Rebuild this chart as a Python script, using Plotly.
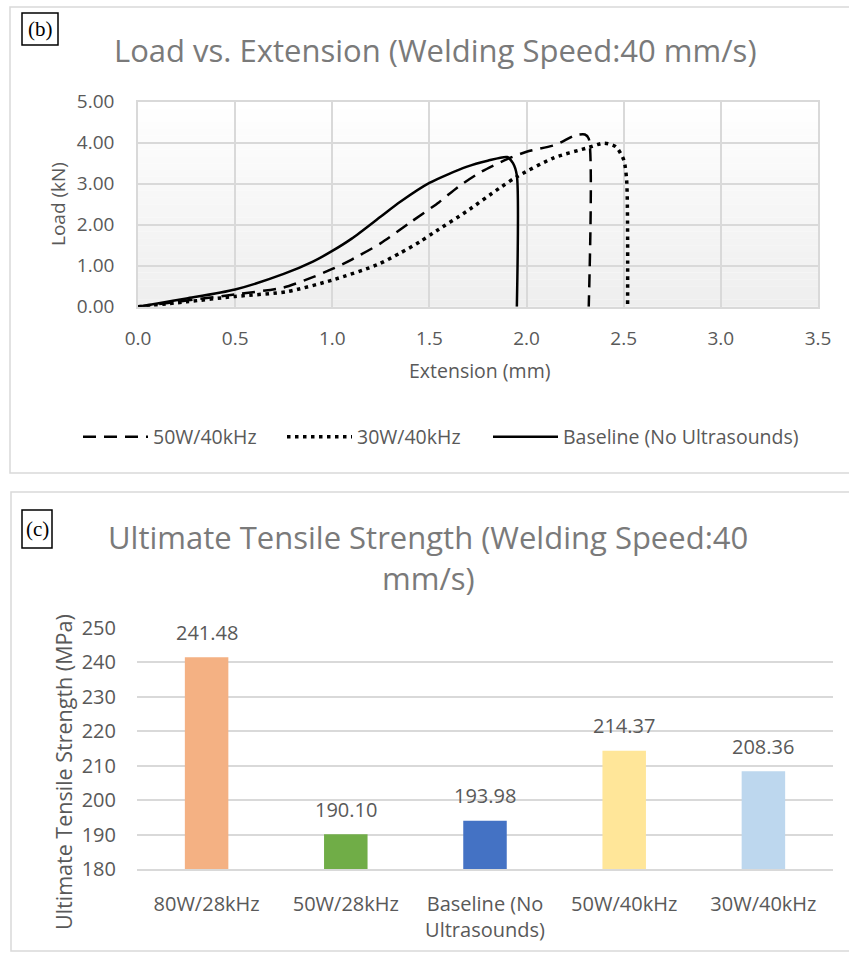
import plotly.graph_objects as go

W, H = 849, 953


def px(x):
    return x / W


def py(y):
    return 1 - y / H


# ---------------- data ----------------
# Panel (b): load vs extension curves
ext_50w = [0.0, 0.25, 0.5, 0.75, 0.9, 1.0, 1.1, 1.25, 1.4, 1.55, 1.65, 1.77, 1.9, 2.0, 2.15, 2.25, 2.3, 2.32, 2.32]
load_50w = [0.0, 0.15, 0.3, 0.47, 0.72, 0.92, 1.15, 1.55, 2.05, 2.55, 2.93, 3.3, 3.6, 3.78, 3.95, 4.18, 4.2, 4.1, 0.0]

ext_30w = [0.0, 0.25, 0.5, 0.77, 1.0, 1.23, 1.35, 1.45, 1.52, 1.69, 1.86, 1.95, 2.14, 2.31, 2.4, 2.46, 2.5, 2.515, 2.52]
load_30w = [0.0, 0.12, 0.25, 0.37, 0.65, 1.02, 1.31, 1.58, 1.8, 2.32, 2.89, 3.17, 3.63, 3.87, 3.99, 3.9, 3.58, 3.09, 0.0]

ext_base = [0.0, 0.1, 0.25, 0.5, 0.75, 0.9, 1.0, 1.1, 1.25, 1.35, 1.5, 1.69, 1.8, 1.9, 1.93, 1.95, 1.95]
load_base = [0.0, 0.08, 0.2, 0.42, 0.8, 1.1, 1.36, 1.66, 2.2, 2.56, 3.02, 3.41, 3.56, 3.65, 3.5, 3.2, 0.0]

series_names = ["50W/40kHz", "30W/40kHz", "Baseline (No Ultrasounds)"]

# Panel (c): ultimate tensile strength
categories = ["80W/28kHz", "50W/28kHz", "Baseline (No<br>Ultrasounds)", "50W/40kHz", "30W/40kHz"]
uts_values = [241.48, 190.10, 193.98, 214.37, 208.36]
bar_colors = ["#F4B183", "#70AD47", "#4472C4", "#FFE699", "#BDD7EE"]

# ---------------- figure ----------------
FONT = "Open Sans"
TICK = "#595959"
TITLE = "#7a7a7a"
GRID = "#d9d9d9"

fig = go.Figure()

fig.add_trace(go.Scatter(x=ext_50w, y=load_50w, mode="lines", name=series_names[0], legend="legend",
                         line=dict(color="black", width=2.5, dash="13px,8px", shape="spline", smoothing=0.7),
                         xaxis="x", yaxis="y"))
fig.add_trace(go.Scatter(x=ext_30w, y=load_30w, mode="lines", name=series_names[1], legend="legend2",
                         line=dict(color="black", width=3.5, dash="3.5px,4.5px", shape="spline", smoothing=0.7),
                         xaxis="x", yaxis="y"))
fig.add_trace(go.Scatter(x=ext_base, y=load_base, mode="lines", name=series_names[2], legend="legend3",
                         line=dict(color="black", width=2.5, shape="spline", smoothing=0.7),
                         xaxis="x", yaxis="y"))

fig.add_trace(go.Bar(x=categories, y=uts_values, marker=dict(color=bar_colors, line=dict(width=0)),
                     cliponaxis=True, showlegend=False,
                     xaxis="x2", yaxis="y2"))

# gradient background of the top plot area
N = 30
shapes = []
for i in range(N):
    c = int(round(0xee + (0xff - 0xee) * (i + 0.5) / N))
    shapes.append(dict(type="rect", xref="x domain", yref="y domain",
                       x0=0, x1=1, y0=i / N, y1=(i + 1) / N,
                       fillcolor=f"rgb({c},{c},{c})", line=dict(width=0), layer="below"))

# panel borders
shapes.append(dict(type="rect", xref="paper", yref="paper", x0=px(10), x1=px(862), y0=py(473), y1=py(7),
                   line=dict(color=GRID, width=1.5), fillcolor="rgba(0,0,0,0)"))
shapes.append(dict(type="rect", xref="paper", yref="paper", x0=px(11), x1=px(862), y0=py(951), y1=py(492),
                   line=dict(color=GRID, width=1.5), fillcolor="rgba(0,0,0,0)"))
# (b) and (c) label boxes
shapes.append(dict(type="rect", xref="paper", yref="paper", x0=px(22), x1=px(58), y0=py(45), y1=py(13),
                   line=dict(color="black", width=1.5)))
shapes.append(dict(type="rect", xref="paper", yref="paper", x0=px(22), x1=px(52), y0=py(548), y1=py(510),
                   line=dict(color="black", width=1.5)))


def note(text, x, y, size, color, family=FONT, angle=0):
    return dict(text=text, x=px(x), y=py(y), xref="paper", yref="paper", showarrow=False,
                xanchor="center", yanchor="middle", textangle=angle,
                font=dict(family=family, size=size, color=color))


annotations = [
    note("(b)", 40, 29, 21, "black", family="Liberation Serif"),
    note("(c)", 37, 529, 21, "black", family="Liberation Serif"),
    note("Load vs. Extension (Welding Speed:40 mm/s)", 435, 50, 31, TITLE),
    note("Ultimate Tensile Strength (Welding Speed:40", 428, 537, 31, TITLE),
    note("mm/s)", 428, 578, 31, TITLE),
    note("Load (kN)", 58, 204, 19, TICK, angle=-90),
    note("Extension (mm)", 479, 371, 19.5, TICK),
    note("Ultimate Tensile Strength (MPa)", 63, 772, 21.5, TICK, angle=-90),
]

# value labels above the bars (placed through the bar chart's own axes)
for cat, val in zip(categories, uts_values):
    annotations.append(dict(text=f"{val:.2f}", x=cat, y=val, xref="x2", yref="y2",
                            showarrow=False, xanchor="center", yanchor="middle", yshift=25,
                            font=dict(family=FONT, size=20, color=TICK)))

legend_common = dict(orientation="h", xanchor="left", y=py(437), yanchor="middle",
                     font=dict(family=FONT, size=19.5, color=TICK), itemwidth=65,
                     bgcolor="rgba(0,0,0,0)")

fig.update_layout(
    width=W, height=H,
    margin=dict(l=0, r=0, t=0, b=0, autoexpand=False),
    paper_bgcolor="white", plot_bgcolor="white",
    font=dict(family=FONT, color=TICK),
    xaxis=dict(domain=[px(138), px(818)], range=[0, 3.5], dtick=0.5, tickformat=".1f",
               showgrid=True, gridcolor=GRID, gridwidth=1.5, zeroline=False,
               showline=True, linecolor=GRID, linewidth=1.5, mirror=True, automargin=False,
               ticks="", ticklabelstandoff=14, tickfont=dict(size=19, color=TICK), anchor="y"),
    yaxis=dict(domain=[py(306.7), py(101.7)], range=[0, 5], dtick=1, tickformat=".2f",
               showgrid=True, gridcolor=GRID, gridwidth=1.5, zeroline=False,
               showline=True, linecolor=GRID, linewidth=1.5, mirror=True, automargin=False,
               ticks="", ticklabelstandoff=18, tickfont=dict(size=19, color=TICK), anchor="x"),
    xaxis2=dict(domain=[px(137), px(833)], showgrid=False, zeroline=False,
                showline=True, linecolor=GRID, linewidth=1.5, automargin=False,
                ticks="", ticklabelstandoff=16, tickfont=dict(size=20, color=TICK), anchor="y2"),
    yaxis2=dict(domain=[py(869), py(628)], range=[180, 250], dtick=10,
                showgrid=True, gridcolor=GRID, gridwidth=1.5, zeroline=False, showline=False,
                automargin=False,
                ticks="", ticklabelstandoff=20, tickfont=dict(size=20, color=TICK), anchor="x2"),
    bargap=0.6875,
    showlegend=True,
    legend=dict(x=px(78), **legend_common),
    legend2=dict(x=px(282), **legend_common),
    legend3=dict(x=px(488), **legend_common),
    shapes=shapes,
    annotations=annotations,
)

fig.write_html("out.html", config={"displayModeBar": False},
               post_script="document.body.style.margin='0px';")
